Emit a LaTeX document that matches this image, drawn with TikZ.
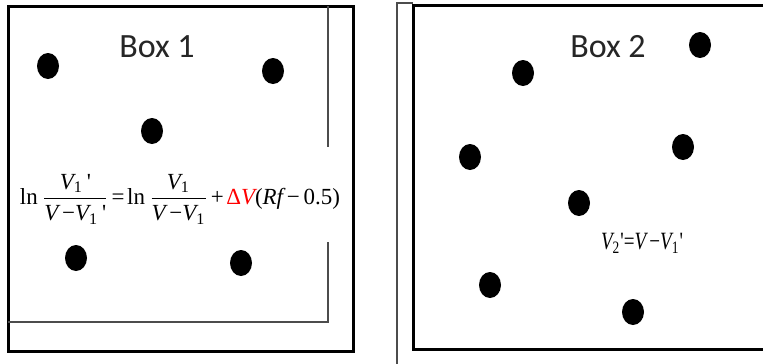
\documentclass[tikz,border=0pt]{standalone}
\usepackage{amsmath}
\usepackage{graphicx}
\usepackage{fontspec}
\usetikzlibrary{shapes.geometric}
\newfontfamily\boxfont{Carlito}
\newfontfamily\tms{Liberation Serif}
\newcommand{\iv}[1]{\text{\tms\itshape #1}}
\newcommand{\rv}[1]{\text{\tms #1}}
\tikzset{
  thickbox/.style={line width=3pt, black},
  thinline/.style={line width=1.4pt, black!70},
  dot/.style={ellipse, fill=black, inner sep=0pt, minimum width=22pt, minimum height=26pt},
  boxlabel/.style={font=\boxfont\fontsize{34}{40}\selectfont, text=black!85, inner sep=0pt},
  eqn/.style={inner sep=0pt}
}
\begin{document}
\begin{tikzpicture}[x=1pt,y=-1pt]
\useasboundingbox (0,0) rectangle (763,364);
\fill[white] (0,0) rectangle (763,364);
% Box 1
\draw[thickbox] (8,6) rectangle (353,351);
\draw[thinline] (328,6) -- (328,147);
\draw[thinline] (328,242) -- (328,322) -- (8,322);
% Box 2
\draw[thickbox] (775,5) -- (413,5) -- (413,349) -- (775,349);
\draw[thinline] (397,370) -- (397,3) -- (413,3);
% labels
\node[boxlabel] (b1) at (157,47) {Box 1};
\node[boxlabel] (b2) at (608,47) {Box 2};
% dots box 1
\node[dot] (a1) at (48,66) {};
\node[dot] (a2) at (273,71) {};
\node[dot] (a3) at (152,131) {};
\node[dot] (a4) at (76,258) {};
\node[dot] (a5) at (241,263) {};
% dots box 2
\node[dot] (c1) at (523,73) {};
\node[dot] (c2) at (700,45) {};
\node[dot] (c3) at (470,157) {};
\node[dot] (c4) at (683,147) {};
\node[dot] (c5) at (579,203) {};
\node[dot] (c6) at (490,285) {};
\node[dot] (c7) at (633,312) {};
% equations
\node[eqn] (e1) at (180,199) {\resizebox*{320pt}{50pt}{$\displaystyle \rv{ln}\mspace{3mu}\frac{\iv{V}_{\rv{1}}\rv{\,'}}{\iv{V}\rv{\,−}\iv{V}_{\rv{1}}\rv{\,'}}\mspace{2mu}\rv{=}\mspace{2mu}\rv{ln}\mspace{3mu}\frac{\iv{V}_{\rv{1}}}{\iv{V}\rv{\,−}\iv{V}_{\rv{1}}}\mspace{2mu}\rv{+}\mspace{2mu}\textcolor{red}{\rv{Δ}\iv{V}}\rv{(}\iv{Rf}\rv{\,−\,}\rv{0.5}\rv{)}$}};
\node[eqn] (e2) at (642,243) {\resizebox*{82pt}{20pt}{$\iv{V}_{\rv{2}}\rv{'}\rv{=}\iv{V}\rv{\,−}\iv{V}_{\rv{1}}\rv{'}$}};
\end{tikzpicture}
\end{document}
